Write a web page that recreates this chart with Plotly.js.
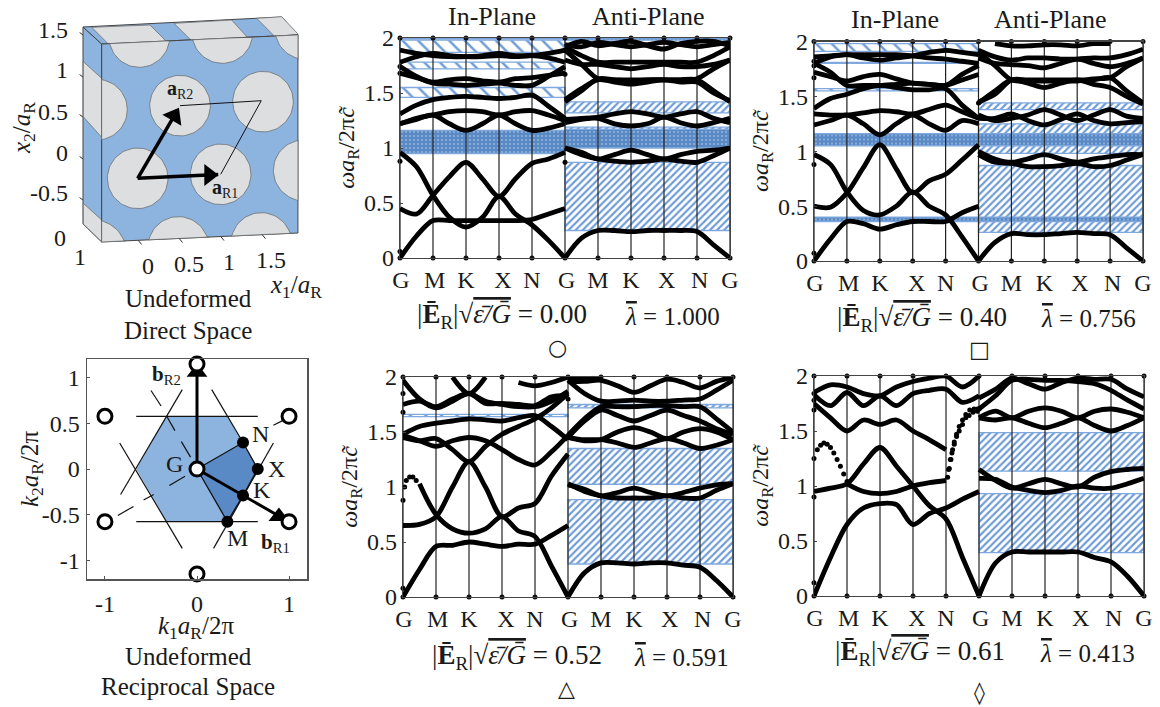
<!DOCTYPE html>
<html><head><meta charset="utf-8">
<script src="https://cdn.plot.ly/plotly-3.0.1.min.js"></script>
<style>html,body{margin:0;padding:0;background:#fff}#c{width:1160px;height:707px}</style></head>
<body><div id="c"></div>
<script>
// ---------- wave-vector path ----------
const pathLabels = ['G','M','K','X','N','G','M','K','X','N','G'];
const pathGrid = [0,1,2,3,4,5,6,7,8,9,10];
const pathLabelPos = [0.03,1.05,2,3.12,4,5.05,6,7,8.08,9.08,10];
const knotsIn = [0,.5,1,1.5,2,2.5,3,3.5,4,4.5,5];
const knotsAnti = [5,5.5,6,6.5,7,7.5,8,8.5,9,9.5,10];
const freqTicks = [0,.5,1,1.5,2];

// ---------- panel circle: in-plane and anti-plane bands ----------
const p1In = [
 [0,.2,.34,.34,.34,.34,.34,.34,.35,.40,.45],
 [.45,.40,.57,.74,.87,.72,.56,.72,.86,.90,.96],
 [.96,.83,.57,.37,.28,.37,.56,.40,.30,.16,0],
 [1.22,1.26,1.30,1.22,1.16,1.22,1.30,1.22,1.16,1.18,1.22],
 [1.22,1.27,1.30,1.33,1.34,1.33,1.30,1.33,1.34,1.30,1.25],
 [1.31,1.39,1.44,1.46,1.47,1.46,1.45,1.46,1.48,1.38,1.27],
 [1.74,1.65,1.59,1.58,1.57,1.58,1.59,1.57,1.57,1.65,1.74],
 [1.68,1.64,1.60,1.62,1.63,1.61,1.60,1.63,1.64,1.66,1.68],
 [1.78,1.83,1.86,1.84,1.83,1.84,1.86,1.84,1.84,1.82,1.78],
 [1.89,1.86,1.84,1.83,1.83,1.83,1.84,1.83,1.84,1.86,1.89]];
const p1Anti = [
 [0,.18,.25,.25,.24,.25,.25,.25,.24,.12,0],
 [1,.96,.90,.94,.98,.94,.90,.94,.97,.98,1],
 [1,.94,.90,.88,.87,.88,.90,.88,.87,.93,1],
 [1.23,1.26,1.28,1.31,1.33,1.31,1.28,1.31,1.33,1.27,1.23],
 [1.26,1.27,1.27,1.22,1.20,1.22,1.28,1.23,1.20,1.23,1.27],
 [1.42,1.52,1.63,1.62,1.61,1.62,1.62,1.62,1.62,1.52,1.42],
 [1.44,1.54,1.62,1.60,1.58,1.60,1.62,1.60,1.60,1.50,1.43],
 [1.89,1.76,1.63,1.62,1.62,1.62,1.62,1.62,1.63,1.72,1.80],
 [1.80,1.76,1.76,1.74,1.72,1.74,1.76,1.74,1.74,1.76,1.80],
 [1.92,1.84,1.78,1.78,1.78,1.78,1.78,1.78,1.78,1.84,1.92],
 [1.92,1.97,1.93,1.95,1.97,1.93,1.90,1.95,1.97,1.97,1.93],
 [1.94,1.92,1.96,1.94,1.92,1.94,1.96,1.94,1.92,1.94,1.96]];
const p1Hatch = [[1.46,1.55],[1.72,1.78],[1.87,1.98]];
const p1HatchAnti = [[.25,.87],[1.32,1.42],[1.17,1.19]];
const p1Dense = [[.95,1.16],[1.99,2]];
const p1DenseAnti = [[1.0,1.17],[1.98,2]];
const p1Edge = [[0,.06],[0,.88],[0,1.68],[0,1.74],[5,.87],[5,1.67]];

// ---------- panel square ----------
const p2In = [
 [0,.2,.36,.34,.29,.33,.36,.36,.36,.44,.50],
 [.50,.49,.62,.85,1.06,.84,.62,.73,.79,.92,1.06],
 [.97,.88,.63,.46,.42,.50,.63,.50,.42,.22,0],
 [1.24,1.28,1.33,1.25,1.15,1.25,1.33,1.25,1.19,1.28,1.25],
 [1.34,1.33,1.33,1.35,1.37,1.36,1.34,1.38,1.42,1.36,1.30],
 [1.39,1.48,1.52,1.57,1.60,1.58,1.56,1.56,1.57,1.42,1.30],
 [1.72,1.68,1.64,1.68,1.70,1.66,1.62,1.61,1.60,1.65,1.70],
 [1.80,1.72,1.60,1.60,1.60,1.61,1.62,1.61,1.60,1.70,1.78],
 [1.86,1.87,1.88,1.85,1.83,1.85,1.87,1.90,1.92,1.90,1.88],
 [1.80,1.86,1.88,1.88,1.88,1.88,1.87,1.85,1.84,1.82,1.80]];
const p2Anti = [
 [0,.17,.25,.24,.24,.25,.26,.25,.24,.12,0],
 [.97,.90,.89,.86,.86,.87,.89,.86,.87,.92,.97],
 [1,.93,.90,.93,.97,.93,.90,.93,.95,.97,.97],
 [1.33,1.28,1.30,1.33,1.38,1.33,1.28,1.33,1.38,1.32,1.30],
 [1.30,1.30,1.34,1.28,1.24,1.29,1.34,1.28,1.25,1.26,1.27],
 [1.45,1.52,1.65,1.65,1.65,1.65,1.65,1.65,1.67,1.55,1.44],
 [1.44,1.55,1.65,1.62,1.58,1.62,1.65,1.61,1.58,1.50,1.43],
 [1.90,1.78,1.65,1.64,1.64,1.64,1.64,1.66,1.67,1.77,1.85],
 [1.85,1.80,1.79,1.78,1.76,1.80,1.84,1.80,1.77,1.80,1.85],
 [1.92,1.86,1.83,1.85,1.85,1.84,1.84,1.85,1.85,1.88,1.93],
 [null,1.98,1.96,1.96,1.97,1.97,1.96,1.98,1.98,null,null]];
const p2Hatch = [[1.91,1.98],[1.80,1.81],[1.55,1.57]];
const p2HatchAnti = [[.26,.87],[.98,1.25],[1.38,1.44]];
const p2Dense = [[1.05,1.16],[.36,.40]];
const p2DenseAnti = [[1.05,1.16],[.36,.40]];
const p2Edge = [[0,.07],[0,.88],[0,1.67],[0,1.78],[0,1.82],[5,1.44]];

// ---------- panel triangle ----------
const p3In = [
 [0,.25,.46,.47,.50,.48,.46,.48,.48,.56,.65],
 [.65,.66,.73,1.0,1.23,1.0,.73,.81,.85,1.1,1.3],
 [null,1.03,.75,.62,.58,.62,.73,.60,.55,.28,0],
 [1.45,1.42,1.44,1.34,1.23,1.37,1.48,1.55,1.62,1.72,1.85],
 [1.47,1.42,1.37,1.42,1.45,1.42,1.34,1.25,1.20,1.32,1.47],
 [1.48,1.55,1.58,1.60,1.62,1.61,1.60,1.63,1.65,1.55,1.43],
 [1.75,1.78,1.73,1.80,1.85,1.78,1.75,1.73,1.73,1.78,1.87],
 [1.97,1.80,1.72,1.78,1.85,1.76,1.76,1.75,1.74,1.82,1.83],
 [null,null,null,2.0,1.85,2.0,null,null,null,null,null],
 [null,null,null,null,null,null,null,1.95,1.92,1.95,2.0]];
const p3Anti = [
 [0,.22,.31,.31,.30,.31,.31,.29,.27,.15,0],
 [1.02,.98,.92,.95,.99,.95,.92,.95,.99,1.02,1.03],
 [1.03,.96,.92,.90,.90,.90,.92,.90,.90,.97,1.03],
 [1.45,1.43,1.43,1.40,1.36,1.40,1.44,1.40,1.35,1.38,1.43],
 [1.45,1.42,1.43,1.50,1.54,1.50,1.44,1.50,1.53,1.50,1.43],
 [1.47,1.62,1.73,1.73,1.73,1.74,1.74,1.73,1.73,1.62,1.50],
 [1.45,1.60,1.70,1.65,1.60,1.65,1.70,1.65,1.60,1.53,1.48],
 [1.97,1.85,1.78,1.78,1.79,1.78,1.78,1.79,1.80,1.88,1.97],
 [1.96,1.96,1.97,1.92,1.86,1.92,1.98,1.95,1.90,1.96,2.0],
 [2.0,1.98,2.0,null,null,null,null,null,null,null,null]];
const p3Hatch = [[1.64,1.66]];
const p3HatchAnti = [[.30,.885],[1.025,1.35],[1.72,1.75]];
const p3Dense = [];
const p3DenseAnti = [];
const p3Edge = [[0,.08],[0,.88],[.05,1.0],[.1,1.06],[.2,1.09],[.3,1.09],[.4,1.06],[0,1.68],[0,1.85],[5,1.8]];

// ---------- panel diamond ----------
const p4In = [
 [0,.35,.65,.80,.84,.83,.65,.75,.80,.88,.95],
 [.95,.98,1.02,1.2,1.35,1.18,1.0,.82,.70,.35,0],
 [null,null,1.02,.95,.93,.95,1.0,1.03,1.05,null,null],
 [1.75,1.62,1.50,1.60,1.56,1.60,1.50,1.42,1.33,null,null],
 [1.83,1.73,1.85,1.73,1.82,1.73,1.84,1.87,1.88,1.76,1.82],
 [1.85,1.92,1.90,1.84,1.82,1.90,1.95,1.98,2.0,1.90,2.0],
 [null,null,1.97,null,null,null,1.94,null,null,null,null]];
const p4Anti = [
 [0,.30,.40,.40,.40,.40,.40,.35,.31,.18,0],
 [1.15,1.05,.98,1.02,1.06,1.02,.99,1.08,1.13,1.15,1.16],
 [1.07,1.06,.99,.96,.94,.96,1.0,.98,.98,1.02,1.07],
 [1.62,1.68,1.62,1.68,1.71,1.68,1.62,1.68,1.70,1.67,1.62],
 [1.62,1.60,1.62,1.57,1.53,1.57,1.62,1.55,1.50,1.55,1.62],
 [1.80,1.88,1.98,1.93,1.88,1.94,1.98,1.97,1.97,1.88,1.81],
 [1.70,1.82,1.96,1.97,1.96,1.96,1.95,1.93,1.87,1.78,1.70]];
const p4Hatch = [];
const p4HatchAnti = [[.395,.93],[1.135,1.485]];
const p4Dense = [];
const p4DenseAnti = [];
const p4Edge = [[0,.12],[0,.9],[0,1.25],[0,1.69],[0,1.78],[0,1.84],[5,1.7]];
const p4SparseX = [.1,.2,.3,.4,.5,.6,.7,.8,.9,1, 4.05,4.1,4.15,4.2,4.25,4.32,4.4,4.5,4.6,4.72,4.85,4.95, 4.08,4.13,4.18,4.25,4.32,4.4,4.5,4.6,4.7,4.82,4.95];
const p4SparseY = [1.33,1.37,1.39,1.38,1.35,1.30,1.24,1.18,1.11,1.04, 1.08,1.16,1.24,1.33,1.40,1.47,1.54,1.60,1.65,1.69,1.70,1.70, 1.15,1.24,1.3,1.38,1.45,1.50,1.56,1.62,1.64,1.67,1.68];

const panelCaptions = [
 ['0.00','1.000','○'],['0.40','0.756','□'],['0.52','0.591','△'],['0.61','0.413','◊']];

// ---------- undeformed reciprocal space ----------
const recipXTicks = [-1,0,1];
const recipYTicks = [-1,-.5,0,.5,1];
const hexK1 = [-.33,.33,.66,.33,-.33,-.66,-.33];
const hexK2 = [.577,.577,0,-.577,-.577,0,.577];
const zoneK1 = [0,.5,.66,.5,.33,0];
const zoneK2 = [0,.29,0,-.29,-.577,0];
const latticeK1 = [0,1,1,0,-1,-1,0];
const latticeK2 = [1.15,.577,-.577,-1.15,-.577,.577,0];
const symK1 = [.5,.66,.5,.33];
const symK2 = [.29,0,-.29,-.577];
const brillouinK1 = [-.66,.66,null,-.66,.66,null,-.16,-.83,null,.16,.5,null,-.84,-.16,null,.83,.18];
const brillouinK2 = [.577,.577,null,-.577,-.577,null,.87,-.28,null,.87,.29,null,.285,-.87,null,.285,-.87];
const dashK1 = [-.50,-.39,null,-.33,-.24,null,-.17,-.07,null,-.13,-.30,null,-.47,-.58,null,-.69,-.86,null,.83,.93];
const dashK2 = [.86,.69,null,.58,.42,null,.30,.13,null,-.08,-.18,null,-.28,-.34,null,-.41,-.51,null,.48,.53];
const bVecK1 = [0,0,null,0,.95];
const bVecK2 = [0,1.1,null,0,-.55];
const bHeadK1 = [0,.89];
const bHeadK2 = [1.06,-.52];

// ---------- undeformed direct space ----------
const frontX = [-.434,1.931,1.931,-.434,-.434];
const frontY = [-.767,-.659,1.727,1.618,-.767];
const sideX = [-.659,-.434,-.434,-.659,-.659];
const sideY = [1.823,1.618,-.767,-.549,1.823];
const topX = [-.659,-.434,1.931,1.735,-.659];
const topY = [1.823,1.618,1.727,1.943,1.823];
const sidePatchX = [[-.655,-.434,-.434,-.655,-.655],[-.655,-.434,-.434,-.655,-.655]];
const sidePatchY = [[1.405,1.205,.494,.741,1.405],[-.301,-.502,-.764,-.551,-.301]];
const topPatchX = [[-.554,-.354,.349,.148,-.554],[.437,.650,1.333,1.132,.437],[1.434,1.654,1.935,1.735,1.434]];
const topPatchY = [[1.819,1.618,1.646,1.847,1.819],[1.867,1.658,1.686,1.907,1.867],[1.927,1.706,1.735,1.947,1.927]];
const holeI = [0,1,2,0,1,-1,-1,0,1,0,1,2];
const holeJ = [0,0,0,1,1,1,2,2,2,-1,-1,-1];
const holeRadius = .365;
const cellX = [.51,1.489,1];
const cellY = [.875,.935,.048];
const aVecX = [0,.97,null,0,.48];
const aVecY = [0,.047,null,0,.82];
const aHeadX = [.86,.44];
const aHeadY = [.04,.75];
const axisTickX = [.007,.047,null,.5,.54,null,1,1.04,null,1.5,1.54,null,-.70,-.659,null,-.70,-.659,null,-.70,-.659,null,-.70,-.659,null,-.70,-.659];
const axisTickY = [-.747,-.797,null,-.724,-.774,null,-.70,-.75,null,-.678,-.728,null,1.757,1.727,null,1.25,1.22,null,.768,.738,null,.263,.233,null,-.232,-.262];
const directLabels = [
 ['1.5',-.816,1.787,'right'],['1',-.816,1.305,'right'],['0.5',-.816,.80,'right'],['0',-.816,.305,'right'],['-0.5',-.816,-.177,'right'],
 ['0',-.84,-.72,'right'],['1',-.695,-.948,'center'],['0',.124,-1.057,'center'],['0.5',.618,-1.033,'center'],['1',1.1,-1.008,'center'],['1.5',1.606,-.984,'center']];

// ---------- style ----------
const BLUE='#8db3df', DARK='#5a8ac6', GRAY='#dcdee0', HATCH='#6d9bd6', SERIF='"Liberation Serif", serif';
const W=1160, H=707, TICK=24;
const px=x=>x/W, py=y=>1-y/H;
const traces=[], annotations=[], layout={};

function note(text,x,y,size,extra){
  annotations.push(Object.assign({text:text,x:px(x),y:py(y),xref:'paper',yref:'paper',showarrow:false,
    xanchor:'center',yanchor:'middle',font:{family:SERIF,size:size||24,color:'#1a1a1a'}},extra||{}));
}
function bands(list,cx,xa,ya,kind){
  if(!list.length) return;
  const pats={back:{shape:'\\',size:11,solidity:.22,fgcolor:HATCH,bgcolor:'#fff'},
              fwd:{shape:'/',size:5,solidity:.42,fgcolor:HATCH,bgcolor:'#fff'},
              dense:{shape:'.',size:4,solidity:.08,fgcolor:'#dfe9f6',bgcolor:DARK}};
  traces.push({type:'bar',x:list.map(()=>cx),width:list.map(()=>5),base:list.map(b=>b[0]),y:list.map(b=>b[1]-b[0]),
    xaxis:xa,yaxis:ya,hoverinfo:'skip',showlegend:false,
    marker:{color:'#fff',pattern:pats[kind],line:{color:'#7fa9de',width:1.3}}});
}
function panel(n,geom,inC,antiC,hIn,hAnti,dIn,dAnti,edge){
  const xa='x'+n, ya='y'+n;
  layout['xaxis'+n]={domain:[px(geom.l),px(geom.r)],range:[0,10],anchor:ya,tickmode:'array',tickvals:pathLabelPos,ticktext:pathLabels,
    ticks:'',tickfont:{family:SERIF,size:TICK,color:'#1a1a1a'},showgrid:false,zeroline:false,showline:true,mirror:true,linecolor:'#444',linewidth:1.2,tickangle:0};
  layout['yaxis'+n]={domain:[py(geom.b),py(geom.t)],range:[0,2],anchor:xa,tickmode:'array',tickvals:freqTicks,ticktext:freqTicks.map(String),
    ticks:'inside',ticklen:3,tickcolor:'#444',tickfont:{family:SERIF,size:TICK,color:'#1a1a1a'},showgrid:false,zeroline:false,showline:true,mirror:true,linecolor:'#444',linewidth:1.2,
    title:{text:'<i>ωa</i><sub>R</sub>/2π<i>c̃</i>',font:{family:SERIF,size:24,color:'#1a1a1a'},standoff:2}};
  bands(hIn,2.5,xa,ya,'back'); bands(hAnti,7.5,xa,ya,'fwd');
  bands(dIn,2.5,xa,ya,'dense'); bands(dAnti,7.5,xa,ya,'dense');
  const gx=[],gy=[];
  pathGrid.forEach(v=>{gx.push(v,v,null);gy.push(0,2,null);});
  traces.push({type:'scatter',mode:'lines+markers',x:gx,y:gy,xaxis:xa,yaxis:ya,cliponaxis:false,hoverinfo:'skip',showlegend:false,
    line:{color:'#222',width:1.2},marker:{color:'#111',size:5}});
  const curve=(xs,ys)=>traces.push({type:'scatter',mode:'lines',x:xs,y:ys,xaxis:xa,yaxis:ya,hoverinfo:'skip',showlegend:false,
    line:{color:'#000',width:4.8,shape:'spline',smoothing:.9}});
  inC.forEach(c=>curve(knotsIn,c)); antiC.forEach(c=>curve(knotsAnti,c));
  traces.push({type:'scatter',mode:'markers',x:edge.map(e=>e[0]),y:edge.map(e=>e[1]),xaxis:xa,yaxis:ya,cliponaxis:false,hoverinfo:'skip',showlegend:false,marker:{color:'#000',size:5}});
}

const G=[{l:400,r:730,t:38,b:258},{l:814,r:1143,t:41.5,b:261},{l:403,r:733,t:377,b:597},{l:814,r:1144,t:376,b:596}];
panel(1,G[0],p1In,p1Anti,p1Hatch,p1HatchAnti,p1Dense,p1DenseAnti,p1Edge);
panel(2,G[1],p2In,p2Anti,p2Hatch,p2HatchAnti,p2Dense,p2DenseAnti,p2Edge);
panel(3,G[2],p3In,p3Anti,p3Hatch,p3HatchAnti,p3Dense,p3DenseAnti,p3Edge);
panel(4,G[3],p4In,p4Anti,p4Hatch,p4HatchAnti,p4Dense,p4DenseAnti,p4Edge);
traces.push({type:'scatter',mode:'markers',x:p4SparseX,y:p4SparseY,xaxis:'x4',yaxis:'y4',hoverinfo:'skip',showlegend:false,marker:{color:'#000',size:5}});

// panel titles and captions
note('In-Plane',492,16,26); note('Anti-Plane',648,16,26);
note('In-Plane',895,19,26); note('Anti-Plane',1050,19,26);
const capPos=[[502,672,316,557,347],[922,1088,319,979,349],[517,681,657,566,688],[920,1087,653,979,693]];
panelCaptions.forEach((c,i)=>{
  const p=capPos[i];
  note('|<b>Ē</b><sub>R</sub>|√<span style="text-decoration:overline"><i>ε̄/Ḡ</i></span> = '+c[0],p[0],p[2],27);
  note('<span style="text-decoration:overline"><i>λ</i></span> = '+c[1],p[1],p[2],25);
  note(c[2],p[3],p[4],22,{font:{family:'"DejaVu Sans", sans-serif',size:22,color:'#1a1a1a'}});
});

// reciprocal-space panel
layout.xaxis5={domain:[px(87),px(307)],range:[-1.195,1.195],anchor:'y5',tickvals:recipXTicks,ticktext:recipXTicks.map(String),ticks:'inside',ticklen:3,tickcolor:'#555',
  ticklabelstandoff:3,tickfont:{family:SERIF,size:TICK,color:'#1a1a1a'},showgrid:false,zeroline:false,showline:true,mirror:true,linecolor:'#555',linewidth:1.5};
layout.yaxis5={domain:[py(579),py(359)],range:[-1.205,1.205],anchor:'x5',tickvals:recipYTicks,ticktext:recipYTicks.map(String),ticks:'inside',ticklen:3,tickcolor:'#555',
  ticklabelstandoff:1,tickfont:{family:SERIF,size:TICK,color:'#1a1a1a'},showgrid:false,zeroline:false,showline:true,mirror:true,linecolor:'#555',linewidth:1.5};
const rec=(o)=>traces.push(Object.assign({type:'scatter',xaxis:'x5',yaxis:'y5',hoverinfo:'skip',showlegend:false},o));
rec({mode:'lines',x:hexK1,y:hexK2,fill:'toself',fillcolor:BLUE,line:{width:0}});
rec({mode:'lines',x:zoneK1,y:zoneK2,fill:'toself',fillcolor:DARK,line:{color:'#111',width:1.3}});
rec({mode:'lines',x:brillouinK1,y:brillouinK2,line:{color:'#111',width:1.2}});
rec({mode:'lines',x:dashK1,y:dashK2,line:{color:'#111',width:1.2}});
rec({mode:'lines',x:bVecK1,y:bVecK2,line:{color:'#000',width:3}});
rec({mode:'markers',x:bHeadK1,y:bHeadK2,marker:{symbol:'triangle-up',color:'#000',size:18}});
rec({mode:'markers',x:symK1,y:symK2,marker:{color:'#000',size:12}});
rec({mode:'markers',x:latticeK1,y:latticeK2,cliponaxis:false,marker:{color:'#fff',size:14,line:{color:'#000',width:3}}});
const recLabels=[['N',.69,.38],['X',.865,0],['K',.71,-.23],['M',.44,-.755],['G',-.24,.05]];
recLabels.forEach(l=>annotations.push({text:l[0],x:l[1],y:l[2],xref:'x5',yref:'y5',showarrow:false,font:{family:SERIF,size:24,color:'#1a1a1a'}}));
annotations.push({text:'<b>b</b><sub>R2</sub>',x:-.33,y:1.03,xref:'x5',yref:'y5',showarrow:false,font:{family:SERIF,size:21,color:'#1a1a1a'}});
annotations.push({text:'<b>b</b><sub>R1</sub>',x:.855,y:-.81,xref:'x5',yref:'y5',showarrow:false,font:{family:SERIF,size:21,color:'#1a1a1a'}});
note('<i>k</i><sub>1</sub><i>a</i><sub>R</sub>/2π',196,627,25);
note('<i>k</i><sub>2</sub><i>a</i><sub>R</sub>/2π',31,469,25,{textangle:-90});
note('Undeformed',188,656,25); note('Reciprocal Space',188,686,25);

// direct-space panel
layout.xaxis6={domain:[px(0),px(345)],range:[-1.659,2.498],anchor:'y6',visible:false};
layout.yaxis6={domain:[py(345),py(0)],range:[-2.008,2.148],anchor:'x6',visible:false};
const dir=(o)=>traces.push(Object.assign({type:'scatter',xaxis:'x6',yaxis:'y6',hoverinfo:'skip',showlegend:false},o));
const EDGE={color:'#444',width:1};
dir({mode:'lines',x:sideX,y:sideY,fill:'toself',fillcolor:BLUE,line:EDGE});
dir({mode:'lines',x:topX,y:topY,fill:'toself',fillcolor:BLUE,line:EDGE});
sidePatchX.forEach((xs,i)=>dir({mode:'lines',x:xs,y:sidePatchY[i],fill:'toself',fillcolor:GRAY,line:{color:'#666',width:.7}}));
topPatchX.forEach((xs,i)=>dir({mode:'lines',x:xs,y:topPatchY[i],fill:'toself',fillcolor:GRAY,line:{color:'#666',width:.7}}));
dir({mode:'lines',x:frontX,y:frontY,fill:'toself',fillcolor:BLUE,line:EDGE});
// holes: circles through the lattice, clipped to the slanted front face
holeI.forEach((i,k)=>{
  const j=holeJ[k], cx=i+.51*j, cy=.048*i+.875*j, xs=[], ys=[];
  const slope=.046, uMin=-.434, uMax=1.931, vMin=-.747, vMax=1.638;
  for(let t=0;t<=72;t++){
    const a=t*Math.PI/36;
    let u=cx+holeRadius*Math.cos(a), y=cy+holeRadius*Math.sin(a);
    u=Math.min(uMax,Math.max(uMin,u));
    let v=y-slope*u; v=Math.min(vMax,Math.max(vMin,v));
    xs.push(u); ys.push(v+slope*u);
  }
  dir({mode:'lines',x:xs,y:ys,fill:'toself',fillcolor:GRAY,line:{color:'#666',width:.7}});
});
dir({mode:'lines',x:cellX,y:cellY,line:{color:'#111',width:1}});
dir({mode:'lines',x:aVecX,y:aVecY,line:{color:'#000',width:3.5}});
dir({mode:'markers',x:aHeadX,y:aHeadY,marker:{symbol:'triangle-up',color:'#000',size:19,angle:[90,30]}});
dir({mode:'lines',x:axisTickX,y:axisTickY,line:{color:'#333',width:1}});
directLabels.forEach(l=>annotations.push({text:l[0],x:l[1],y:l[2],xref:'x6',yref:'y6',xanchor:l[3],showarrow:false,font:{family:SERIF,size:TICK,color:'#1a1a1a'}}));
annotations.push({text:'<b>a</b><sub>R2</sub>',x:.51,y:1.064,xref:'x6',yref:'y6',showarrow:false,font:{family:SERIF,size:20,color:'#1a1a1a'}});
annotations.push({text:'<b>a</b><sub>R1</sub>',x:1.052,y:-.117,xref:'x6',yref:'y6',showarrow:false,font:{family:SERIF,size:20,color:'#1a1a1a'}});
note('<i>x</i><sub>1</sub>/<i>a</i><sub>R</sub>',296,286,25);
note('<i>x</i><sub>2</sub>/<i>a</i><sub>R</sub>',23,128,25,{textangle:-90});
note('Undeformed',188,298,25); note('Direct Space',188,330,25);

Object.assign(layout,{width:W,height:H,margin:{l:0,r:0,t:0,b:0},paper_bgcolor:'#fff',plot_bgcolor:'rgba(0,0,0,0)',barmode:'overlay',showlegend:false,annotations:annotations});
Plotly.newPlot('c',traces,layout,{displayModeBar:false,staticPlot:true});
</script></body></html>
